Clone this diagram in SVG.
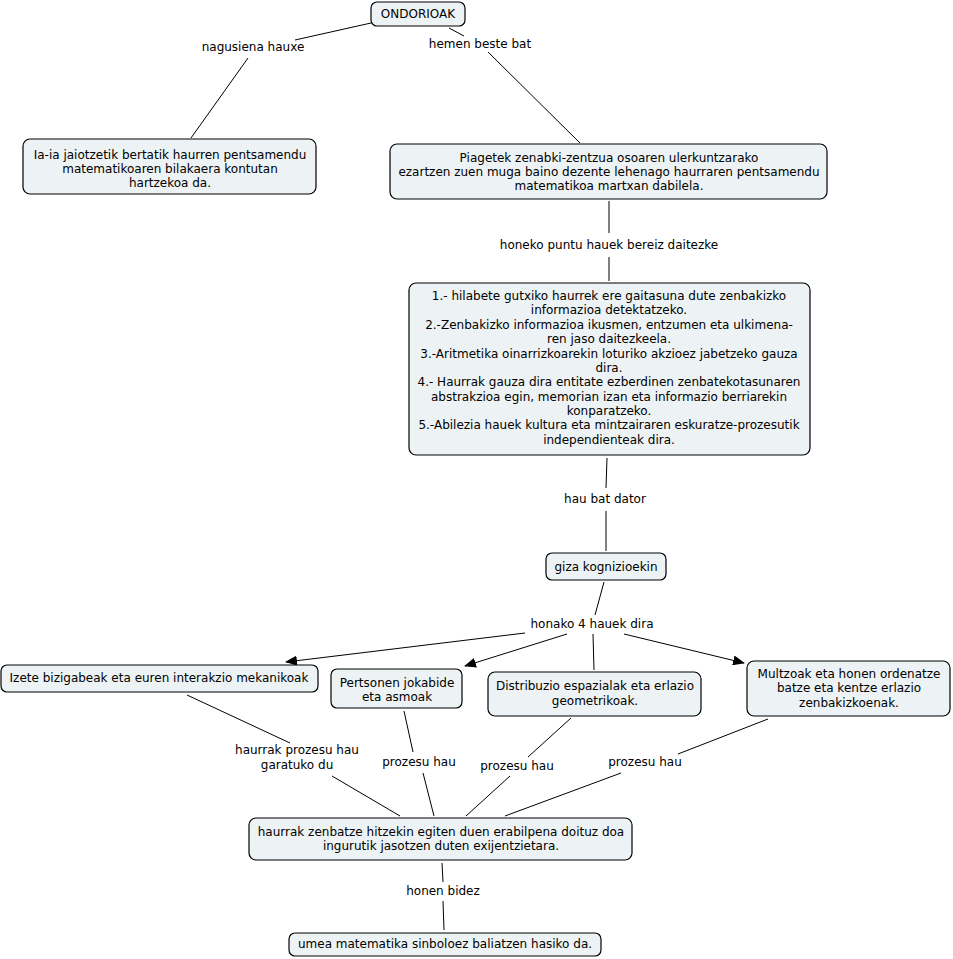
<svg xmlns="http://www.w3.org/2000/svg" width="953" height="959" viewBox="0 0 953 959">
<defs>
<style>
.n rect{fill:#edf3f5;stroke:#000;stroke-width:1.2}
text{font-family:"DejaVu Sans","Verdana",sans-serif;font-size:12px;fill:#000;text-anchor:middle}
.c line{stroke:#000;stroke-width:1}
</style>
<marker id="ah" markerWidth="12" markerHeight="10" refX="11" refY="5" orient="auto" markerUnits="userSpaceOnUse">
<path d="M0,0 L12,5 L0,10 Z" fill="#000"/>
</marker>
</defs>
<rect width="953" height="959" fill="#fff"/>
<g class="c" id="connectors">
<line x1="371" y1="23" x2="295" y2="40"/>
<line x1="248" y1="58" x2="191" y2="138"/>
<line x1="449" y1="28" x2="464" y2="36"/>
<line x1="488" y1="52" x2="580" y2="143"/>
<line x1="609" y1="201" x2="609" y2="233"/>
<line x1="609" y1="257" x2="609" y2="281"/>
<line x1="607" y1="458" x2="606" y2="488"/>
<line x1="606" y1="511" x2="606" y2="551"/>
<line x1="604" y1="582" x2="595" y2="615"/>
<line x1="525" y1="633" x2="286" y2="662" marker-end="url(#ah)"/>
<line x1="567" y1="634" x2="465" y2="666" marker-end="url(#ah)"/>
<line x1="593" y1="634" x2="594" y2="670"/>
<line x1="624" y1="634" x2="744" y2="663" marker-end="url(#ah)"/>
<line x1="187" y1="695" x2="290" y2="743"/>
<line x1="332" y1="776" x2="400" y2="816"/>
<line x1="404" y1="711" x2="413" y2="752"/>
<line x1="423" y1="773" x2="434" y2="816"/>
<line x1="571" y1="718" x2="528" y2="757"/>
<line x1="510" y1="776" x2="466" y2="816"/>
<line x1="768" y1="719" x2="678" y2="754"/>
<line x1="621" y1="773" x2="505" y2="816"/>
<line x1="442" y1="863" x2="443" y2="882"/>
<line x1="443" y1="901" x2="444" y2="930"/>
<text x="253" y="51">nagusiena hauxe</text>
<text x="480" y="48">hemen beste bat</text>
<text x="609" y="249">honeko puntu hauek bereiz daitezke</text>
<text x="605" y="503">hau bat dator</text>
<text x="592" y="628">honako 4 hauek dira</text>
<text x="297" y="754">haurrak prozesu hau</text>
<text x="297" y="769">garatuko du</text>
<text x="419" y="766">prozesu hau</text>
<text x="517" y="770">prozesu hau</text>
<text x="645" y="766">prozesu hau</text>
<text x="443" y="895">honen bidez</text>
</g>
<g class="n" id="ondorioak">
<rect x="371" y="2" width="94" height="24" rx="6"/>
<text x="418" y="18">ONDORIOAK</text>
</g>
<g class="n" id="iaia">
<rect x="23" y="139" width="293" height="55" rx="7"/>
<text x="170" y="159">Ia-ia jaiotzetik bertatik haurren pentsamendu</text>
<text x="170" y="173">matematikoaren bilakaera kontutan</text>
<text x="170" y="187">hartzekoa da.</text>
</g>
<g class="n" id="piagetek">
<rect x="390" y="144" width="437" height="55" rx="7"/>
<text x="609" y="162">Piagetek zenabki-zentzua osoaren ulerkuntzarako</text>
<text x="609" y="176">ezartzen zuen muga baino dezente lehenago haurraren pentsamendu</text>
<text x="609" y="190">matematikoa martxan dabilela.</text>
</g>
<g class="n" id="puntuak">
<rect x="409" y="283" width="401" height="172" rx="7"/>
<text x="609" y="300">1.- hilabete gutxiko haurrek ere gaitasuna dute zenbakizko</text>
<text x="609" y="314">informazioa detektatzeko.</text>
<text x="609" y="329">2.-Zenbakizko informazioa ikusmen, entzumen eta ulkimena-</text>
<text x="609" y="343">ren jaso daitezkeela.</text>
<text x="609" y="358">3.-Aritmetika oinarrizkoarekin loturiko akzioez jabetzeko gauza</text>
<text x="609" y="372">dira.</text>
<text x="609" y="386">4.- Haurrak gauza dira entitate ezberdinen zenbatekotasunaren</text>
<text x="609" y="401">abstrakzioa egin, memorian izan eta informazio berriarekin</text>
<text x="609" y="415">konparatzeko.</text>
<text x="609" y="429">5.-Abilezia hauek kultura eta mintzairaren eskuratze-prozesutik</text>
<text x="609" y="444">independienteak dira.</text>
</g>
<g class="n" id="giza">
<rect x="546" y="553" width="120" height="27" rx="6"/>
<text x="606" y="571">giza kognizioekin</text>
</g>
<g class="n" id="izete">
<rect x="1" y="665" width="317" height="27" rx="6"/>
<text x="159" y="682">Izete bizigabeak eta euren interakzio mekanikoak</text>
</g>
<g class="n" id="pertsonen">
<rect x="331" y="669" width="131" height="39" rx="6"/>
<text x="397" y="687">Pertsonen jokabide</text>
<text x="397" y="701">eta asmoak</text>
</g>
<g class="n" id="distribuzio">
<rect x="488" y="672" width="213" height="44" rx="7"/>
<text x="595" y="690">Distribuzio espazialak eta erlazio</text>
<text x="595" y="705">geometrikoak.</text>
</g>
<g class="n" id="multzoak">
<rect x="747" y="661" width="203" height="55" rx="7"/>
<text x="849" y="678">Multzoak eta honen ordenatze</text>
<text x="849" y="692">batze eta kentze erlazio</text>
<text x="849" y="707">zenbakizkoenak.</text>
</g>
<g class="n" id="haurrak">
<rect x="249" y="818" width="383" height="42" rx="7"/>
<text x="441" y="836">haurrak zenbatze hitzekin egiten duen erabilpena doituz doa</text>
<text x="441" y="850">ingurutik jasotzen duten exijentzietara.</text>
</g>
<g class="n" id="umea">
<rect x="289" y="933" width="312" height="23" rx="6"/>
<text x="445" y="948">umea matematika sinboloez baliatzen hasiko da.</text>
</g>
</svg>
